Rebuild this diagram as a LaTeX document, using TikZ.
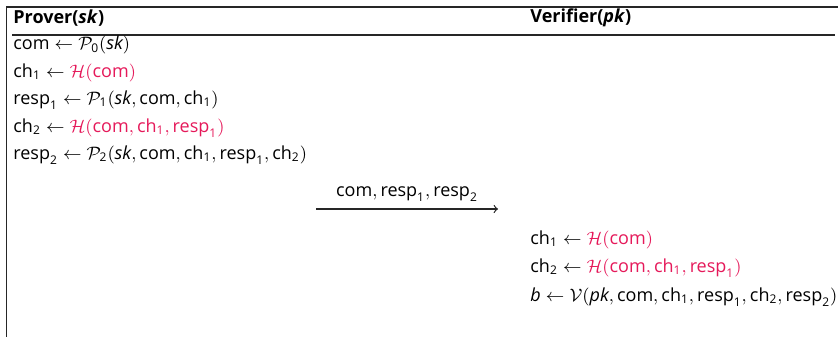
\documentclass[tikz,border=0pt]{standalone}
\usepackage{amsmath}
\usepackage{fontspec}
\setmainfont{Open Sans}
\definecolor{hashred}{RGB}{229,25,90}
\newcommand{\chal}[1]{\text{ch}_{\text{#1}}}
\newcommand{\rsp}[1]{\text{resp}_{\text{#1}}}
\newcommand{\cmt}{\text{com}}

\begin{document}
\begin{tikzpicture}[x=0.5pt,y=-0.5pt,
    frame/.style={draw=black!85, line width=0.8pt},
    rowtext/.style={anchor=west, inner sep=0pt, font=\fontsize{9}{11}\selectfont},
    hashed/.style={text=hashred}]

  \useasboundingbox (0,0) rectangle (838,337);

  % frame of the protocol
  \draw[frame] (6,7) -- (838,7);
  \draw[frame] (6.5,7) -- (6.5,337);
  \draw[frame] (12,35) -- (835,35);

  % parties
  \node[rowtext] (prover) at (13,18) {\textbf{Prover(\textit{sk})}};
  \node[rowtext] (verifier) at (530,18) {\textbf{Verifier(\textit{pk})}};

  % prover side
  \node[rowtext] (p1) at (13,45) {$\cmt \leftarrow \mathcal{P}_{\text{0}}(\textit{sk})$};
  \node[rowtext] (p2) at (13,73) {$\chal{1} \leftarrow {\color{hashred}\mathcal{H}(\cmt)}$};
  \node[rowtext] (p3) at (13,100) {$\rsp{1} \leftarrow \mathcal{P}_{\text{1}}(\textit{sk}, \cmt, \chal{1})$};
  \node[rowtext] (p4) at (13,128) {$\chal{2} \leftarrow {\color{hashred}\mathcal{H}(\cmt, \chal{1}, \rsp{1})}$};
  \node[rowtext] (p5) at (13,155) {$\rsp{2} \leftarrow \mathcal{P}_{\text{2}}(\textit{sk}, \cmt, \chal{1}, \rsp{1}, \chal{2})$};

  % message
  \coordinate (send) at (316,209);
  \coordinate (recv) at (498,209);
  \draw[->, black!85, line width=0.6pt] (send) -- node[above=0pt, font=\fontsize{9}{11}\selectfont, text=black] (msg) {$\cmt, \rsp{1}, \rsp{2}$} (recv);

  % verifier side
  \node[rowtext] (v1) at (530,240) {$\chal{1} \leftarrow {\color{hashred}\mathcal{H}(\cmt)}$};
  \node[rowtext] (v2) at (530,268) {$\chal{2} \leftarrow {\color{hashred}\mathcal{H}(\cmt, \chal{1}, \rsp{1})}$};
  \node[rowtext] (v3) at (530,297) {$\textit{b} \leftarrow \mathcal{V}(\textit{pk}, \cmt, \chal{1}, \rsp{1}, \chal{2}, \rsp{2})$};

\end{tikzpicture}
\end{document}
